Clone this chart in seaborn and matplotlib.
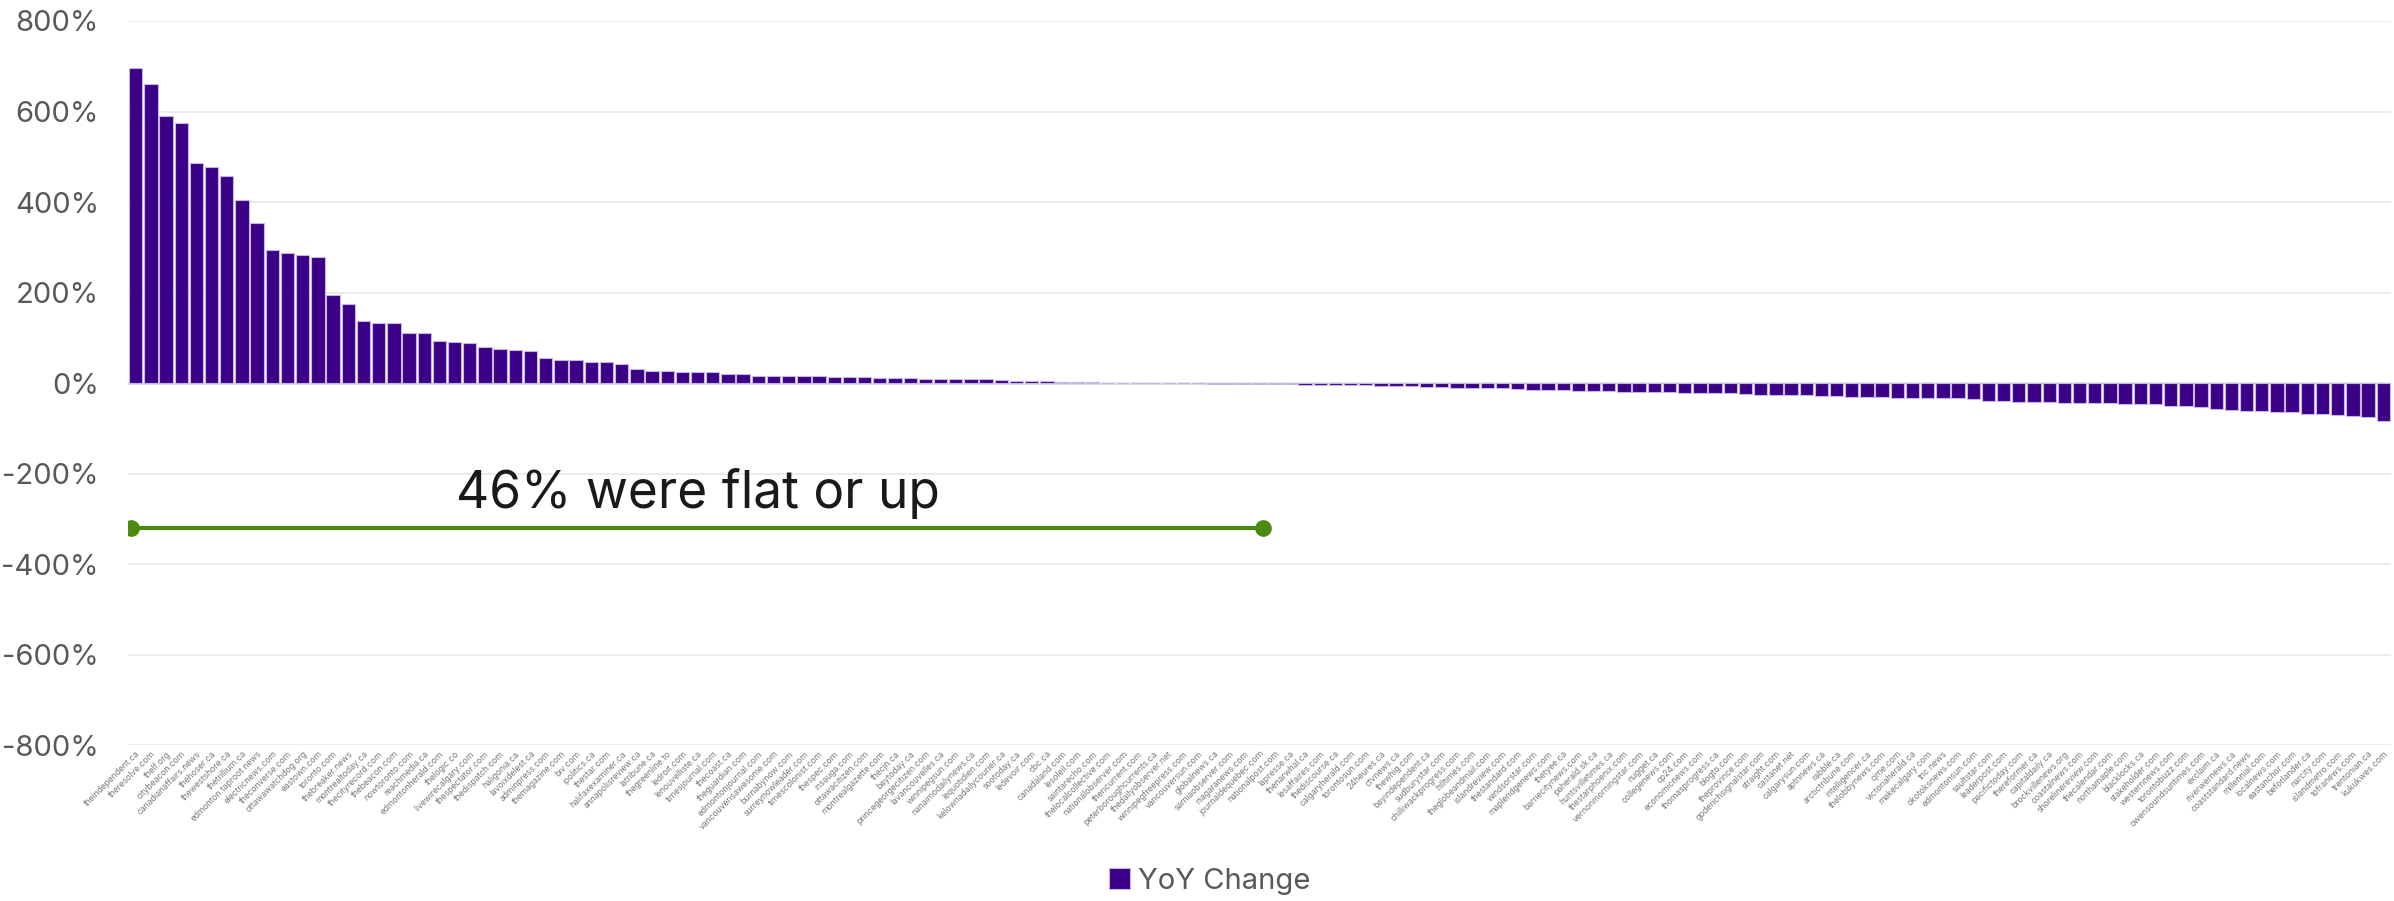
import numpy as np
import pandas as pd
import seaborn as sns
import matplotlib.pyplot as plt

# sites sorted by year-over-year change (in %)
sites = [
    "theindependent.ca", "theresolve.com", "thelf.org", "citybeacon.com", "canadianaffairs.news",
    "thehoser.ca", "thewestshore.ca", "thetrillium.ca", "edmonton.taproot.news", "electricnews.com",
    "theconverse.com", "ottawawatchdog.org", "eastown.com", "toronto.com", "thebreaker.news",
    "montrealtoday.ca", "thecityrecord.com", "thebeacon.com", "nowtoronto.com", "reachmedia.ca",
    "edmontonherald.com", "thelogic.co", "livewirecalgary.com", "thespectator.com", "thedispatch.com",
    "haligonia.ca", "lavoixdelest.ca", "adminpress.com", "themagazine.com", "biv.com",
    "ipolitics.ca", "thestar.com", "halifaxexaminer.ca", "annapolisreview.ca", "latribune.ca",
    "thegreenline.to", "ledroit.com", "lenouvelliste.ca", "timesjournal.com", "thecoast.ca",
    "theguardian.com", "edmontonjournal.com", "vancouverisawesome.com", "burnabynow.com", "surreynowleader.com",
    "timescolonist.com", "thespec.com", "insauga.com", "ottawacitizen.com", "montrealgazette.com",
    "thecjn.ca", "baytoday.ca", "princegeorgecitizen.com", "lavancouvelles.ca", "winnipegsun.com",
    "nanaimodailynews.ca", "lequotidien.com", "kelownadailycourier.ca", "sootoday.ca", "ledevoir.com",
    "cbc.ca", "canadaland.com", "lesoleil.com", "saintarecho.com", "thelocalcollective.com",
    "nationalobserver.com", "thericurrent.com", "peterboroughcurrents.ca", "thedailyobserver.net", "winnipegfreepress.com",
    "vancouversun.com", "globalnews.ca", "sarniaobserver.com", "niagaranews.com", "journaldequebec.com",
    "nationalpost.com", "lapresse.ca", "thenarwhal.ca", "lesaffaires.com", "thediscourse.ca",
    "calgaryherald.com", "torontosun.com", "24heures.ca", "ctvnews.ca", "thewhig.com",
    "bayindependent.ca", "sudburystar.com", "chilliwackprogress.com", "hilltimes.com", "theglobeandmail.com",
    "islandreview.com", "thestandard.com", "windsorstar.com", "mapleridgenews.com", "thetyee.ca",
    "barriecitynews.com", "paherald.sk.ca", "huntsvilletimes.ca", "thestarphoenix.com", "vernonmorningstar.com",
    "nugget.ca", "collegenews.com", "cp24.com", "economicnews.com", "thomasprogress.ca",
    "blogto.com", "theprovince.com", "goderichsignalstar.com", "straight.com", "castanet.net",
    "calgarysun.com", "aptnnews.ca", "rabble.ca", "arctictribune.com", "intelligencer.ca",
    "thelobbynews.com", "cjme.com", "victoriaherald.ca", "makecalgary.com", "tnc.news",
    "okotoksnews.com", "edmontonsun.com", "saultstar.com", "leaderpost.com", "pacifictoday.com",
    "thereformer.ca", "capitaldaily.ca", "brockvillenews.org", "coastalnews.com", "shorelinereview.com",
    "thecalendar.com", "northamaple.com", "blacklocks.ca", "stakeholder.com", "westernnews.com",
    "torontobuzz.com", "owensoundsuntimes.com", "exclaim.ca", "riverwernews.ca", "coaststandard.news",
    "millennial.com", "localnews.com", "eastanchor.com", "beforlander.ca", "narcity.com",
    "islandmetro.com", "tofranews.com", "trentonian.ca", "kukukwes.com",
]
yoy_change = [
    696, 661, 590, 574, 487, 477, 457, 404, 353, 294,
    287, 283, 278, 195, 174, 138, 133, 132, 111, 110,
    93, 91, 89, 79, 76, 72, 70, 56, 50, 50,
    47, 46, 42, 32, 27, 27, 25, 24, 24, 21,
    19, 16, 16, 16, 15, 15, 14, 13, 13, 12,
    12, 11, 10, 10, 9, 8, 8, 7, 5, 5,
    4, 3, 2, 2, 1, 1, 0, 0, 0, 0,
    0, -1, -1, -1, -1, -2, -2, -4, -5, -5,
    -5, -5, -6, -7, -7, -9, -9, -10, -10, -10,
    -12, -13, -15, -16, -16, -17, -18, -18, -19, -19,
    -20, -20, -21, -21, -21, -22, -24, -26, -26, -26,
    -27, -29, -29, -30, -30, -30, -32, -32, -34, -34,
    -34, -35, -39, -40, -41, -41, -41, -43, -43, -43,
    -43, -46, -46, -47, -50, -51, -53, -57, -60, -62,
    -62, -64, -65, -68, -69, -71, -73, -74, -83,
]
y_ticks = [-800, -600, -400, -200, 0, 200, 400, 600, 800]
note_text = "46% were flat or up"
note_span = [-0.3, 74.2]   # bar-index range of the green bracket
note_y = -320

df = pd.DataFrame({"site": sites, "change": yoy_change})

sns.set_theme(style="white")
plt.rcParams['font.family'] = ['Inter', 'DejaVu Sans']

fig = plt.figure(figsize=(23.94, 9.01), dpi=100)
ax = fig.add_axes([0.0535, 0.173, 0.9452, 0.8037])

sns.barplot(data=df, x="site", y="change", order=sites, color="#3B0086",
            saturation=1, width=0.88, edgecolor="#c5b6e8", linewidth=0.8,
            label="YoY Change", ax=ax)

ax.set_xlim(-0.5, len(sites) - 0.5)
ax.set_ylim(-800, 800)
ax.set_yticks(y_ticks)
ax.set_yticklabels([f"{t}%" for t in y_ticks])
ax.yaxis.grid(True, color="#ebebeb", linewidth=1.3)
ax.set_axisbelow(True)
ax.axhline(0, color="#d9d9d9", linewidth=2, zorder=0.5)
for s in ax.spines.values():
    s.set_visible(False)
ax.tick_params(axis="both", length=0)
ax.tick_params(axis="y", labelsize=21, labelcolor="#595959", pad=21)
ax.set_xticks(range(len(sites)))
ax.set_xticklabels(sites, rotation=45, ha="right", rotation_mode="anchor",
                   fontsize=6.2, color="#7a7a7a")
ax.tick_params(axis="x", pad=3)
ax.set_xlabel("")
ax.set_ylabel("")

# bracket marking the sites that were flat or up
ax.plot(note_span, [note_y, note_y], color="#4a8a0f", linewidth=3,
        marker="o", markersize=11, solid_capstyle="butt")
ax.text(37, -245, note_text, fontsize=37, color="#1a1a1a",
        ha="center", va="center")

if ax.get_legend():
    ax.get_legend().remove()
handles, labels = ax.get_legend_handles_labels()
fig.legend(handles[:1], labels[:1], loc="center", bbox_to_anchor=(1210 / 2394, 0.022),
           frameon=False, fontsize=21, labelcolor="#595959",
           handlelength=0.7, handleheight=0.7, handletextpad=0.3)

fig.savefig("out.png", dpi=100)
